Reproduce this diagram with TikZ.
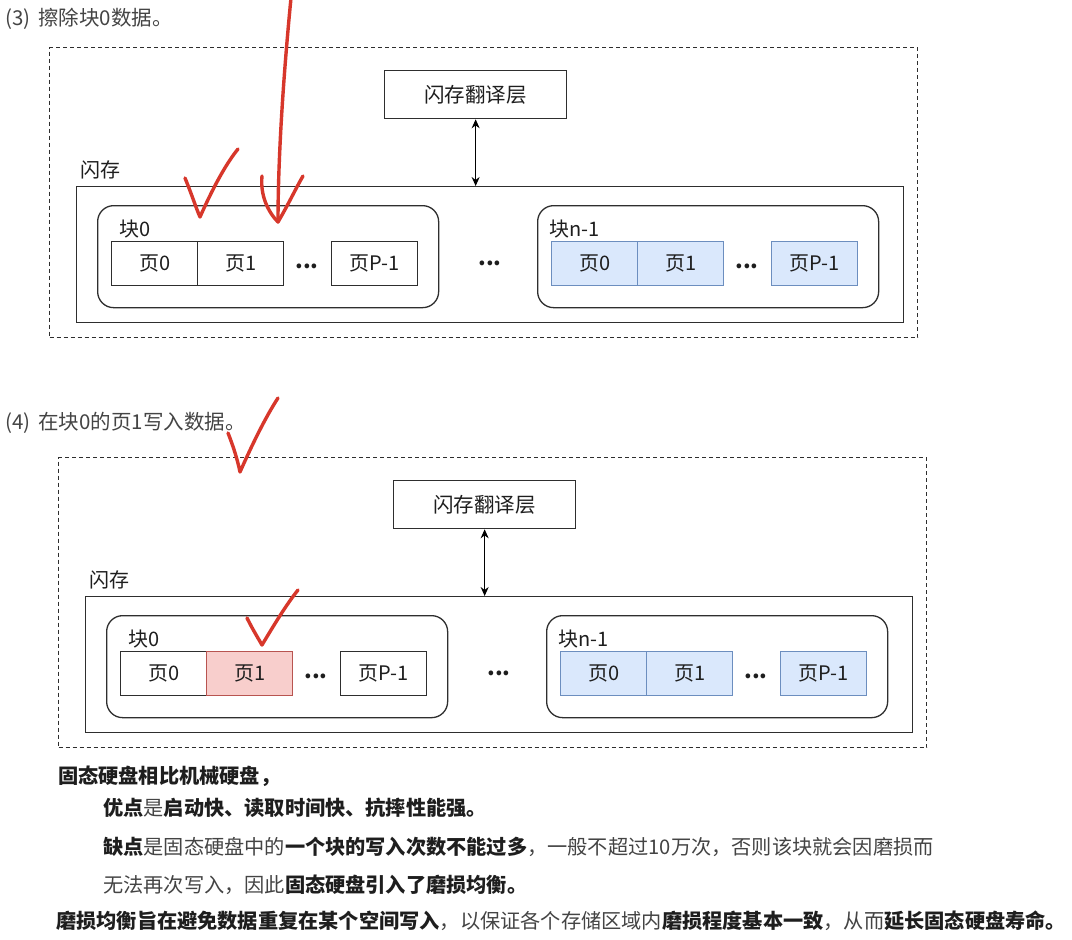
\documentclass[tikz,border=0pt]{standalone}
\usepackage{fontspec}
\setmainfont{Noto Sans CJK SC}
\usetikzlibrary{arrows.meta}
\definecolor{lineC}{HTML}{2E2E2E}
\definecolor{txtB}{HTML}{1E1E1E}
\definecolor{txtN}{HTML}{444444}
\definecolor{blueF}{HTML}{DAE8FC}
\definecolor{blueD}{HTML}{6C8EBF}
\definecolor{pinkF}{HTML}{F8CECC}
\definecolor{pinkD}{HTML}{B85450}
\definecolor{penred}{HTML}{D7372B}
\tikzset{
  box/.style={draw=lineC, line width=1.3pt, anchor=north west, inner sep=0pt},
  dashbox/.style={box, dashed, dash pattern=on 4pt off 3pt},
  blockbox/.style={box, rounded corners=16pt, minimum width=341pt, minimum height=102pt},
  pagebox/.style={box, minimum width=86pt, minimum height=44pt, font=\fontsize{20}{20}\selectfont, text=txtB},
  bluepage/.style={pagebox, draw=blueD, fill=blueF},
  pinkpage/.style={pagebox, draw=pinkD, fill=pinkF},
  lbl/.style={anchor=base west, inner sep=0pt, font=\fontsize{20}{20}\selectfont, text=txtB},
  dots/.style={inner sep=0pt, font=\fontsize{22}{22}\selectfont\bfseries, text=txtB},
  para/.style={anchor=base west, inner sep=0pt, font=\fontsize{20.2}{20.2}\selectfont, text=txtN},
  head/.style={anchor=base west, inner sep=0pt, font=\fontsize{20.5}{20.5}\selectfont, text=txtN},
  dblarrow/.style={draw=black, line width=1.3pt, {Stealth[length=9pt,width=8pt]}-{Stealth[length=9pt,width=8pt]}},
  pen/.style={draw=penred, line width=3.4pt, line cap=round, line join=round}
}
\newcommand{\flashdiagram}[3]{%
  \begin{scope}[shift={(#2,#3)}]
    \node[dashbox, minimum width=868pt, minimum height=290pt] (#1outer) at (49,47) {};
    \node[box, minimum width=182pt, minimum height=48pt, font=\fontsize{20.5}{20.5}\selectfont, text=txtB] (#1ftl) at (384,70) {闪存翻译层};
    \node[box, minimum width=827pt, minimum height=136pt] (#1flash) at (76,186) {};
    \node[lbl] (#1flashlbl) at (80,177) {闪存};
    \draw[dblarrow] (#1ftl.south) -- (#1ftl.south |- #1flash.north);
    \node[blockbox] (#1blk0) at (97,205) {};
    \node[lbl] (#1blk0lbl) at (119,236) {块0};
    \node[blockbox] (#1blkn) at (537,205) {};
    \node[lbl] (#1blknlbl) at (549,236) {块n-1};
    \node[dots] (#1midots) at (490,263) {...};
  \end{scope}}
\begin{document}
\begin{tikzpicture}[x=1pt,y=-1pt]
\useasboundingbox[fill=white] (0,0) rectangle (1072,940);
% headings
\node[head] (h3) at (5,25) {(3)\hspace{8pt}擦除块0数据。};
\node[head] (h4) at (5,429) {(4)\hspace{8pt}在块0的页1写入数据。};
% top diagram
\flashdiagram{a}{0}{0}
\node[pagebox] (ap0) at (111,241) {页0};
\node[pagebox] (ap1) at (197,241) {页1};
\node[dots] (ad0) at (307,266) {...};
\node[pagebox] (apP) at (331,241) {页P-1};
\node[bluepage] (aq0) at (551,241) {页0};
\node[bluepage] (aq1) at (637,241) {页1};
\node[dots] (ad1) at (747,266) {...};
\node[bluepage] (aqP) at (771,241) {页P-1};
% bottom diagram
\flashdiagram{b}{9}{410}
\node[pagebox] (bp0) at (120,651) {页0};
\node[pinkpage] (bp1) at (206,651) {页1};
\node[dots] (bd0) at (316,676) {...};
\node[pagebox] (bpP) at (340,651) {页P-1};
\node[bluepage] (bq0) at (560,651) {页0};
\node[bluepage] (bq1) at (646,651) {页1};
\node[dots] (bd1) at (756,676) {...};
\node[bluepage] (bqP) at (780,651) {页P-1};
% text
\node[para] (t1) at (58,783) {\textbf{\color{txtB}固态硬盘相比机械硬盘，}};
\node[para] (t2) at (103,815) {\textbf{\color{txtB}优点}是\textbf{\color{txtB}启动快、读取时间快、抗摔性能强。}};
\node[para] (t3) at (103,854) {\textbf{\color{txtB}缺点}是固态硬盘中的\textbf{\color{txtB}一个块的写入次数不能过多}，一般不超过10万次，否则该块就会因磨损而};
\node[para] (t4) at (103,892) {无法再次写入，因此\textbf{\color{txtB}固态硬盘引入了磨损均衡。}};
\node[para] (t5) at (56,928) {\textbf{\color{txtB}磨损均衡旨在避免数据重复在某个空间写入}，以保证各个存储区域内\textbf{\color{txtB}磨损程度基本一致}，从而\textbf{\color{txtB}延长固态硬盘寿命。}};
% red pen annotations
\draw[pen] (291,-2) .. controls (283,80) and (278,160) .. (278,222);
\draw[pen] (262,176) .. controls (260,195) and (268,212) .. (278,222) .. controls (288,205) and (296,188) .. (303,176);
\draw[pen] (185,178) .. controls (192,195) and (196,208) .. (200,217) .. controls (212,190) and (225,165) .. (238,149);
\draw[pen] (228,433) .. controls (234,448) and (238,462) .. (240,472) .. controls (252,445) and (265,418) .. (278,398);
\draw[pen] (247,618) .. controls (253,630) and (258,638) .. (262,645) .. controls (274,625) and (286,605) .. (298,590);
\end{tikzpicture}
\end{document}
